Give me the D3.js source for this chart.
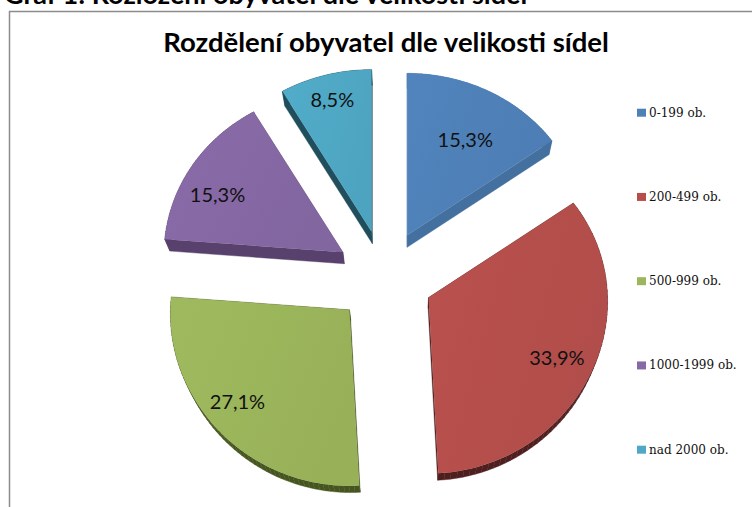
<!DOCTYPE html>
<html><head><meta charset="utf-8">
<style>html,body{margin:0;padding:0;background:#fff;overflow:hidden}svg{display:block}</style>
<script src="https://cdn.jsdelivr.net/npm/d3@7"></script>
</head><body><svg id="c" width="752" height="507"></svg>
<script>
const categories = ["0-199 ob.","200-499 ob.","500-999 ob.","1000-1999 ob.","nad 2000 ob."];
const values = [15.3,33.9,27.1,15.3,8.5];
const topColors = ["#4f81b9","#b64f4c","#9cb65c","#8669a5","#4fa9c6"];
const sideColors = ["#44709f","#4e1f1e","#46551f","#58416c","#204e5c"];
const pageHeading = "Graf 1: Rozložení obyvatel dle velikosti sídel";
const chartTitle = "Rozdělení obyvatel dle velikosti sídel";

const svg = d3.select("#c");
const W=752,H=507, cx=384.5, cy=277, explodeX=49, explodeY=47;
const labelRadius=[.68,.79,.81,.79,.85], labelAngleT=[.53,.5,.54,.4,.5];
const vp={x:409,y:803}, k=.0211;

const rx=d3.scaleLinear().domain([1,-1]).range([175,183]);
const ry=d3.scaleLinear().domain([1,-1]).range([162,176]);
const color=d3.scaleOrdinal(categories,topColors);
const side=d3.scaleOrdinal(categories,sideColors);
const fmt=d3.formatLocale({decimal:",",thousands:" ",grouping:[3],currency:["",""]}).format(".1f");

const pie=d3.pie().sort(null).value(d=>d.v).startAngle(0).endAngle(2*Math.PI);
const arcs=pie(categories.map((c,i)=>({c,v:values[i],i})));

const defs=svg.append("defs");
arcs.forEach(a=>{
  const g=defs.append("linearGradient").attr("id","g"+a.data.i).attr("x1",0).attr("y1",0).attr("x2",1).attr("y2",.4);
  const base=d3.color(color(a.data.c));
  g.append("stop").attr("offset",0).attr("stop-color",base.brighter(.06));
  g.append("stop").attr("offset",1).attr("stop-color",base.darker(.08));
});

svg.append("rect").attr("width",W).attr("height",H).attr("fill","#fff");
svg.append("text").attr("x",4).attr("y",4).attr("font-family","Lato").attr("font-weight",700).attr("font-size",27).attr("fill","#000").text(pageHeading);
svg.append("path").attr("d",`M9.5 ${H}V11.5H${W}`).attr("fill","none").attr("stroke","#8c8c8c").attr("stroke-width",1.5);
svg.append("text").attr("x",386).attr("y",52).attr("text-anchor","middle").attr("font-family","Lato").attr("font-weight",700).attr("font-size",27.5).attr("fill","#000").text(chartTitle);

function project(a,ang){
  const mid=(a.startAngle+a.endAngle)/2;
  const c=Math.cos(ang), s=Math.sin(ang);
  return [cx+explodeX*Math.sin(mid)+rx(c)*s, cy-explodeY*Math.cos(mid)-ry(c)*c];
}
const apex=a=>{const mid=(a.startAngle+a.endAngle)/2;return [cx+explodeX*Math.sin(mid), cy-explodeY*Math.cos(mid)];};
const lower=p=>[p[0]+(vp.x-p[0])*k, p[1]+(vp.y-p[1])*k];
const line=d3.line().curve(d3.curveLinearClosed);

const slices=svg.append("g").selectAll("g").data(arcs).join("g");
slices.each(function(a){
  const n=60, pts=[apex(a)];
  for(let j=0;j<=n;j++) pts.push(project(a,a.startAngle+(a.endAngle-a.startAngle)*j/n));
  const sel=d3.select(this);
  pts.forEach((p,j)=>{
    const q=pts[(j+1)%pts.length];
    sel.append("path").attr("d",line([p,q,lower(q),lower(p)])).attr("fill",side(a.data.c)).attr("stroke",side(a.data.c)).attr("stroke-width",.4);
  });
  sel.append("path").attr("d",line(pts)).attr("fill",`url(#g${a.data.i})`);
});
svg.append("g").selectAll("text").data(arcs).join("text")
  .each(function(a,i){
    const ang=a.startAngle+(a.endAngle-a.startAngle)*labelAngleT[i];
    const c=Math.cos(ang), s=Math.sin(ang), o=apex(a);
    d3.select(this).attr("x",o[0]+rx(c)*s*labelRadius[i]).attr("y",o[1]-ry(c)*c*labelRadius[i]);
  })
  .attr("text-anchor","middle").attr("dominant-baseline","central")
  .attr("font-family","Lato").attr("font-size",20).attr("fill","#111")
  .text(a=>fmt(a.data.v)+"%");

const legendY=d3.scalePoint().domain(categories).range([112.7,449.7]);
const leg=svg.append("g").selectAll("g").data(categories).join("g").attr("transform",d=>`translate(637,${legendY(d)})`);
leg.append("rect").attr("x",0).attr("y",-4).attr("width",9).attr("height",8).attr("fill",d=>color(d));
leg.append("text").attr("x",12).attr("y",0).attr("dominant-baseline","central").attr("font-family","DejaVu Serif").attr("font-size",12).attr("fill","#111").text(d=>d);
</script></body></html>
